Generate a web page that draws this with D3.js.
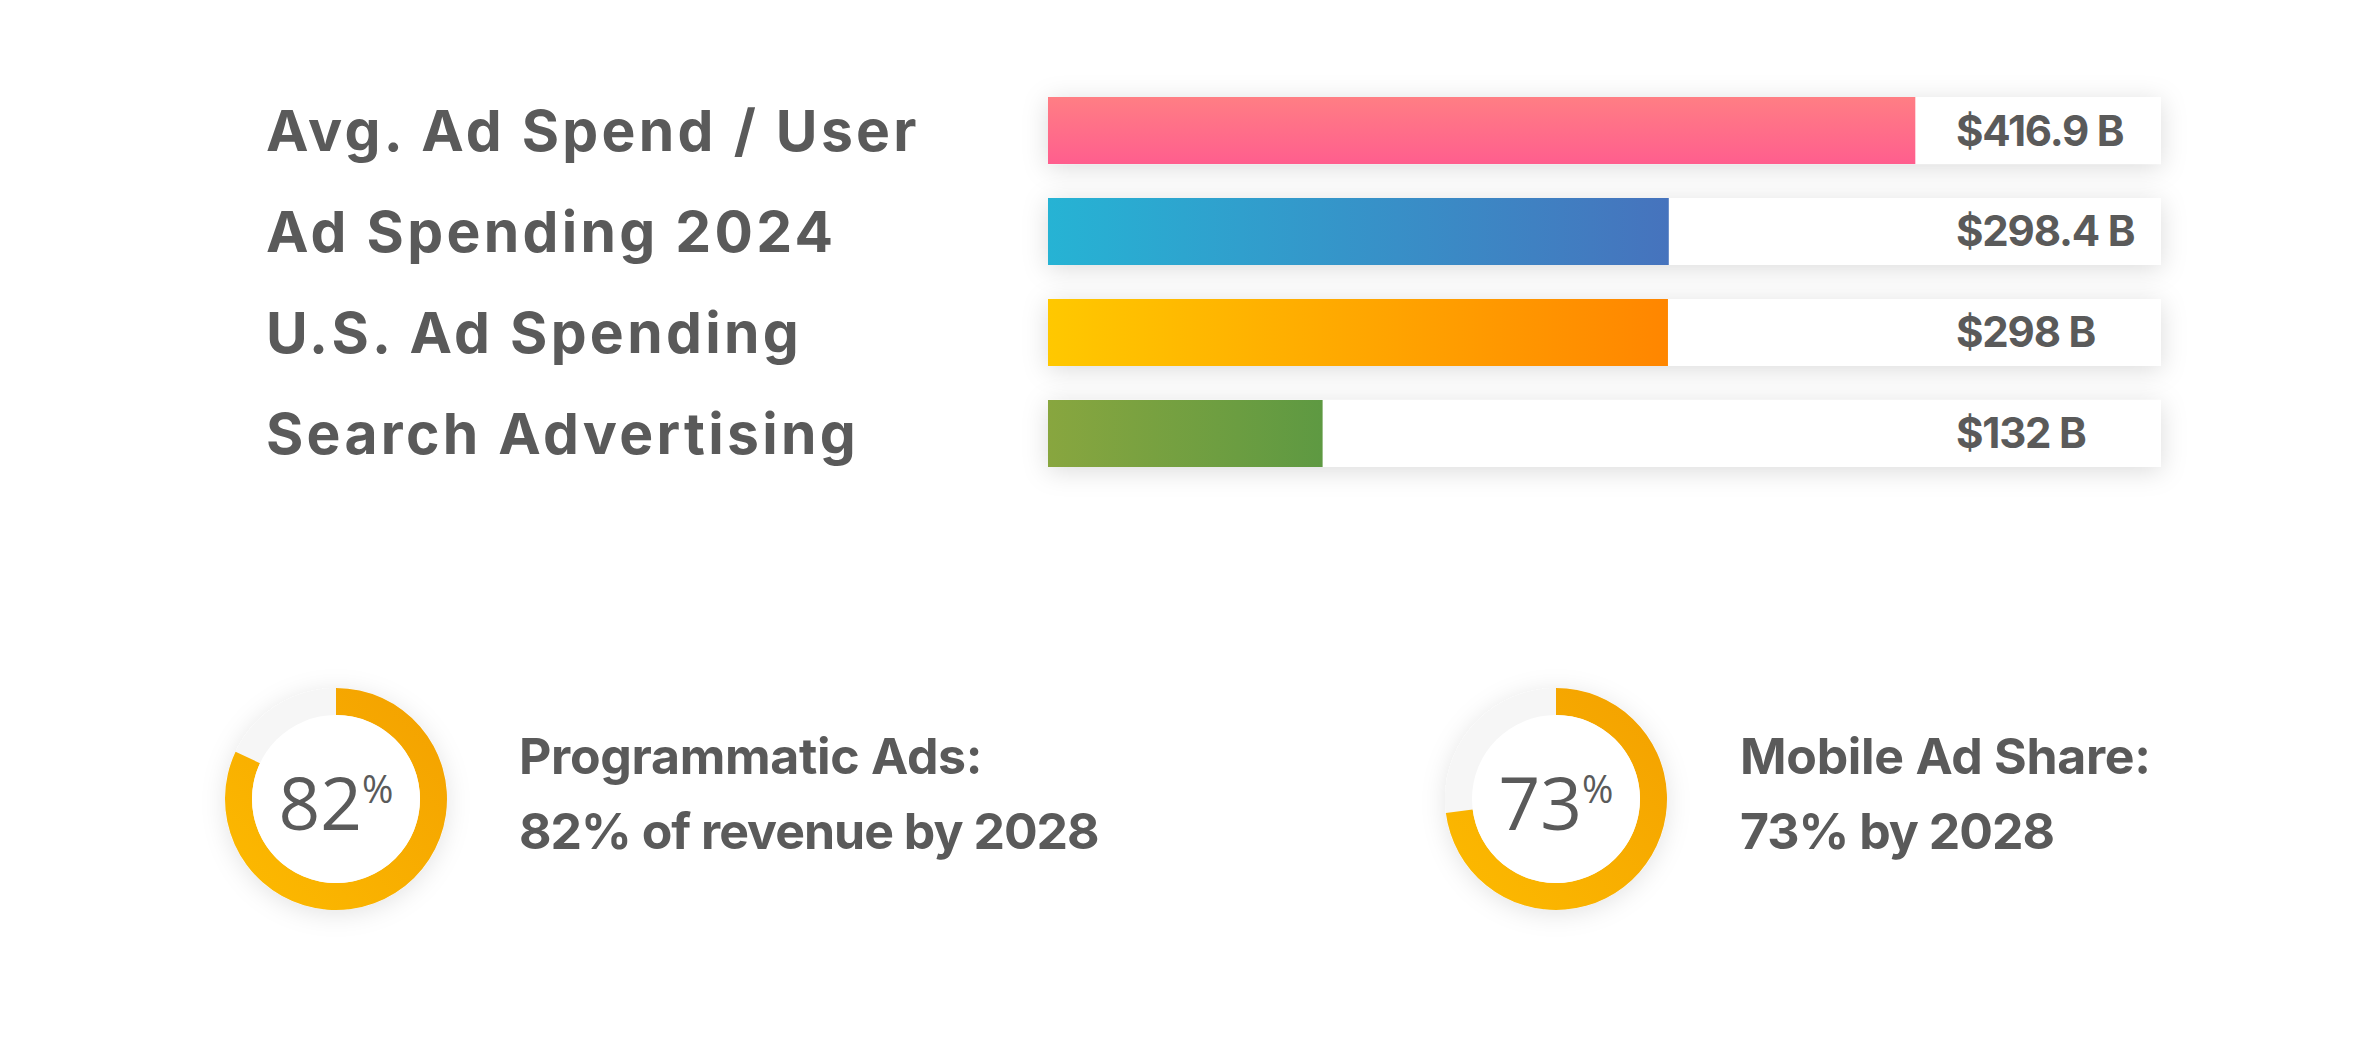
<!DOCTYPE html>
<html>
<head>
<meta charset="utf-8">
<script src="https://cdn.jsdelivr.net/npm/d3@7"></script>
<style>
  html, body { margin: 0; padding: 0; background: #ffffff; }
  svg { display: block; }
</style>
</head>
<body>
<script>
// ---- data ----
const categories = ["Avg. Ad Spend / User", "Ad Spending 2024", "U.S. Ad Spending", "Search Advertising"];
const values = [416.9, 298.4, 298, 132];
const valueLabels = ["$416.9 B", "$298.4 B", "$298 B", "$132 B"];
const scaleMax = [535];

const donutValues = [82, 73];
const donutTitles = ["Programmatic Ads:", "Mobile Ad Share:"];
const donutSubtitles = ["82% of revenue by 2028", "73% by 2028"];

// ---- styles ----
const barGradients = [
  { id: "g0", dir: "v", stops: ["#ff7e84", "#ff5e8e"] },
  { id: "g1", dir: "h", stops: ["#26b3d4", "#4673bd"] },
  { id: "g2", dir: "h", stops: ["#ffc800", "#ff8600"] },
  { id: "g3", dir: "h", stops: ["#88a63f", "#5e9942"] }
];
const textColor = "#5a5a5a";

const W = 2375, H = 1042;
const svg = d3.select("body").append("svg").attr("width", W).attr("height", H);
const defs = svg.append("defs");

barGradients.forEach(g => {
  const lg = defs.append("linearGradient").attr("id", g.id)
    .attr("x1", 0).attr("y1", 0)
    .attr("x2", g.dir === "h" ? 1 : 0).attr("y2", g.dir === "h" ? 0 : 1);
  lg.append("stop").attr("offset", "0%").attr("stop-color", g.stops[0]);
  lg.append("stop").attr("offset", "100%").attr("stop-color", g.stops[1]);
});

const dg = defs.append("linearGradient").attr("id", "donutGrad")
  .attr("x1", 0).attr("y1", 1).attr("x2", 1).attr("y2", 0);
dg.append("stop").attr("offset", "0%").attr("stop-color", "#fdbb00");
dg.append("stop").attr("offset", "100%").attr("stop-color", "#f3a000");

const f = defs.append("filter").attr("id", "shadow")
  .attr("x", "-10%").attr("y", "-60%").attr("width", "120%").attr("height", "220%");
f.append("feDropShadow").attr("dx", 0).attr("dy", 4).attr("stdDeviation", 13)
  .attr("flood-color", "#000").attr("flood-opacity", 0.14);

const f2 = defs.append("filter").attr("id", "dshadow")
  .attr("x", "-40%").attr("y", "-40%").attr("width", "180%").attr("height", "180%");
f2.append("feDropShadow").attr("dx", 0).attr("dy", 4).attr("stdDeviation", 12)
  .attr("flood-color", "#000").attr("flood-opacity", 0.11);

// ---- bar chart ----
const x0 = 1048, trackW = 1113;
const x = d3.scaleLinear().domain([0, scaleMax[0]]).range([0, trackW]);
const y = d3.scaleBand().domain(categories).range([97, 467]).paddingInner(0.3366).paddingOuter(0);

const rows = svg.append("g").selectAll("g").data(categories).join("g")
  .attr("transform", d => `translate(0,${y(d)})`);

rows.append("rect")
  .attr("x", x0).attr("y", 0).attr("width", trackW).attr("height", y.bandwidth())
  .attr("fill", "#ffffff").attr("filter", "url(#shadow)");

rows.append("rect")
  .attr("x", x0).attr("y", 0)
  .attr("width", (d, i) => x(values[i]))
  .attr("height", y.bandwidth())
  .attr("fill", (d, i) => `url(#${barGradients[i].id})`);

rows.append("text")
  .attr("x", 266).attr("y", y.bandwidth() / 2 + 20)
  .attr("font-family", "Inter, Roboto, sans-serif").attr("font-weight", 700)
  .attr("font-size", 57).attr("letter-spacing", "3.3px")
  .attr("fill", textColor)
  .text(d => d);

rows.append("text")
  .attr("x", 1956).attr("y", y.bandwidth() / 2 + 15)
  .attr("font-family", "Inter, Roboto, sans-serif").attr("font-weight", 700)
  .attr("font-size", 42).attr("letter-spacing", "-1.2px")
  .attr("fill", textColor)
  .text((d, i) => valueLabels[i]);

// ---- donuts ----
const donutCx = [336, 1556];
const cy = 799, R = 111, r = 84;
const textX = [519, 1740];
const arc = d3.arc().innerRadius(r).outerRadius(R);

donutValues.forEach((v, i) => {
  const g = svg.append("g").attr("transform", `translate(${donutCx[i]},${cy})`);
  g.append("circle").attr("r", R).attr("fill", "#f6f6f6").attr("filter", "url(#dshadow)");
  g.append("path")
    .attr("d", arc({ startAngle: 0, endAngle: 2 * Math.PI * v / 100 }))
    .attr("fill", "url(#donutGrad)");
  g.append("circle").attr("r", r).attr("fill", "#ffffff");
  const t = g.append("text").attr("text-anchor", "middle").attr("y", 31)
    .attr("font-family", "'Open Sans', 'Noto Sans', sans-serif").attr("fill", textColor);
  t.append("tspan").attr("font-size", 73).text(String(v));
  t.append("tspan").attr("font-size", 38).attr("dy", -27).text("%");

  const tg = svg.append("g").attr("transform", `translate(${textX[i]},0)`)
    .attr("font-family", "Inter, Roboto, sans-serif").attr("font-weight", 700)
    .attr("font-size", 50).attr("fill", textColor);
  tg.append("text").attr("y", 774).attr("letter-spacing", "-0.3px").text(donutTitles[i]);
  tg.append("text").attr("y", 849).attr("letter-spacing", "-1px").text(donutSubtitles[i]);
});
</script>
</body>
</html>
